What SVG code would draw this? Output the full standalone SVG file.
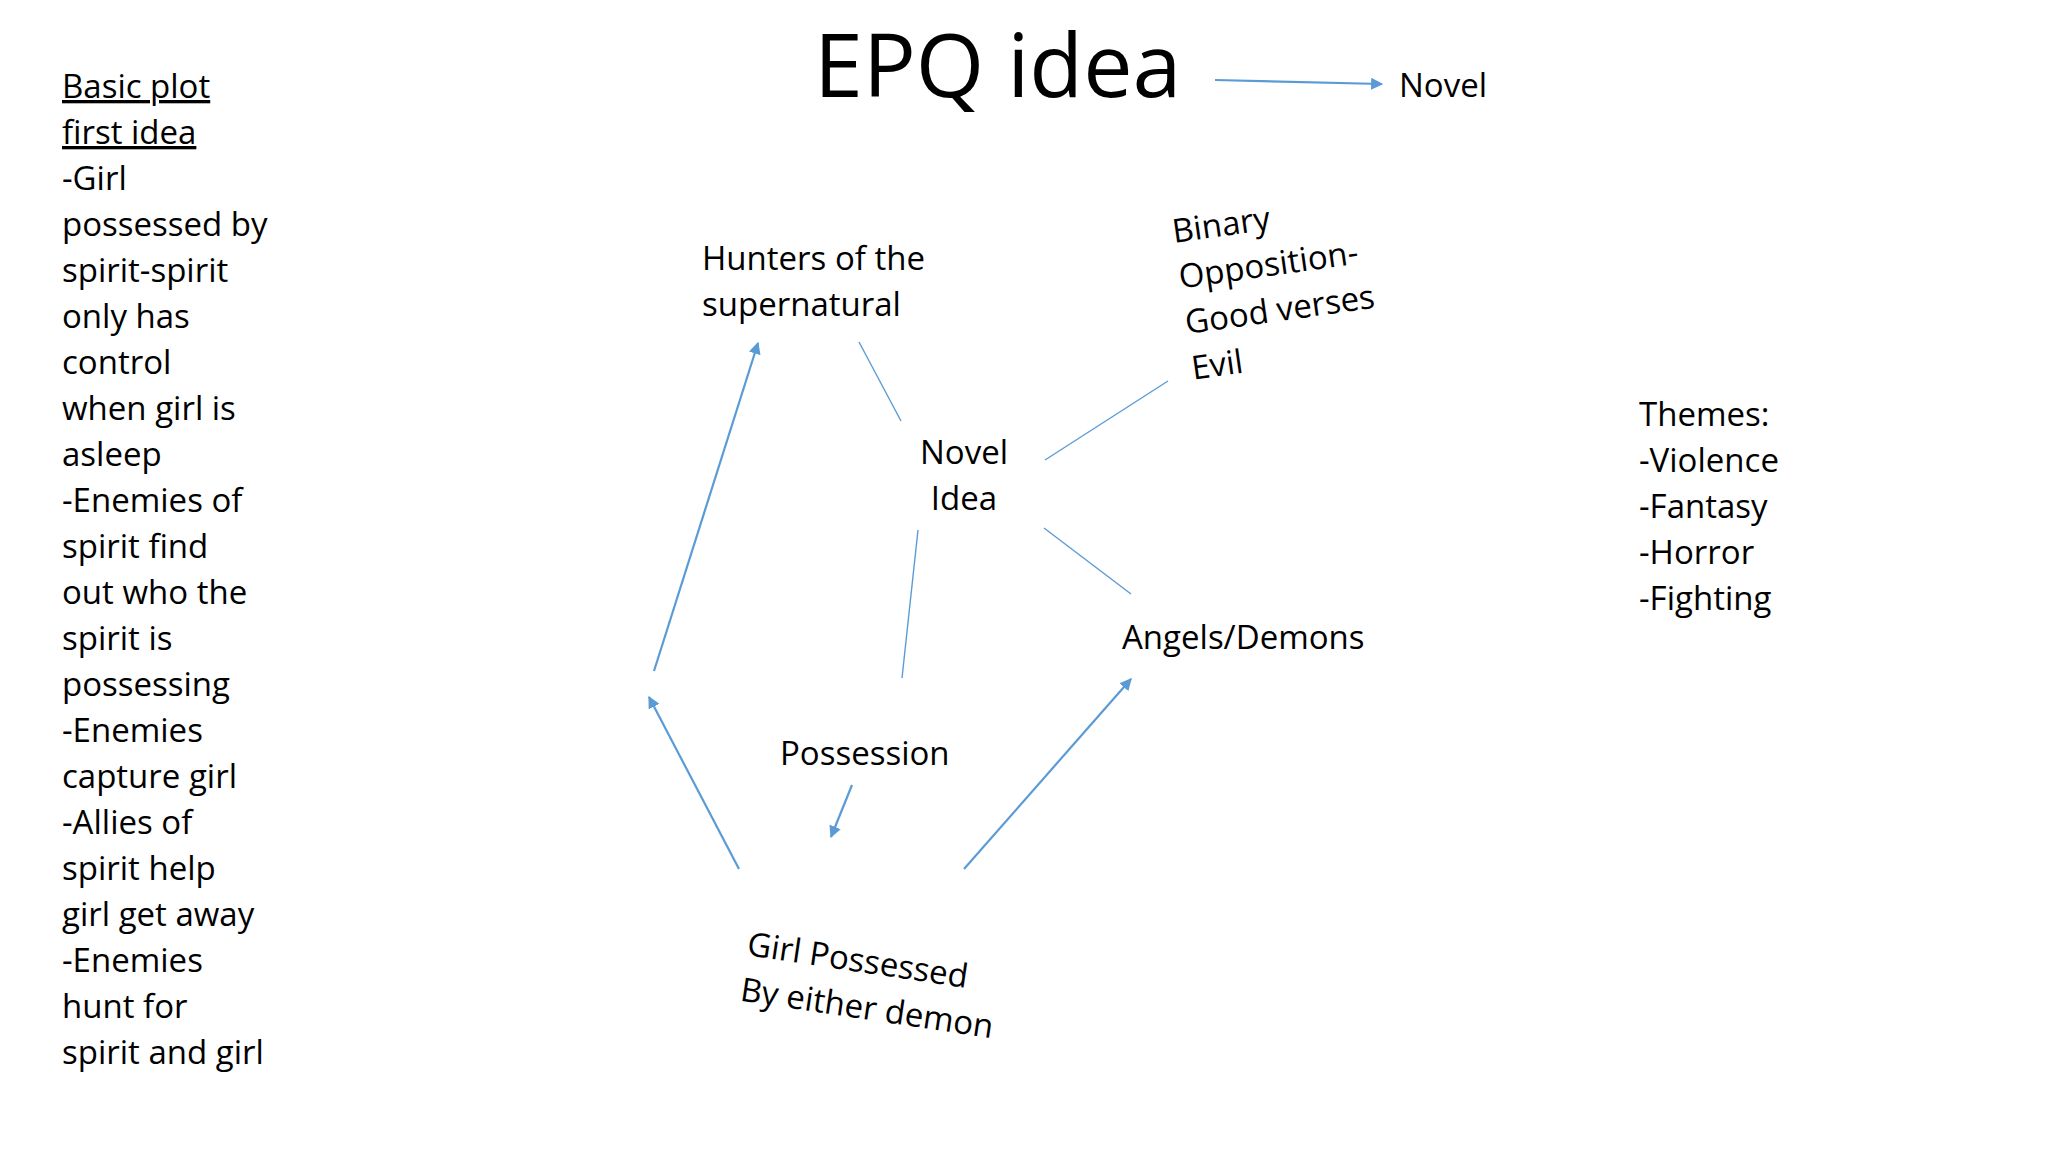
<svg xmlns="http://www.w3.org/2000/svg" width="2048" height="1152" viewBox="0 0 2048 1152">
  <defs>
    <style>
      text { font-family: "Open Sans", "Liberation Sans", sans-serif; font-size: 33px; fill: #000; }
      .title { font-size: 88px; font-weight: 400; }
      .u { text-decoration: underline; }
      .thin { stroke: #5B9BD5; stroke-width: 1.4; fill: none; }
      .arr { stroke: #5B9BD5; stroke-width: 2.2; fill: none; marker-end: url(#ah); }
    </style>
    <marker id="ah" viewBox="0 0 10 10" refX="9" refY="5" markerWidth="5.5" markerHeight="5.5" orient="auto" markerUnits="strokeWidth">
      <path d="M0,0 L10,5 L0,10 z" fill="#5B9BD5"/>
    </marker>
  </defs>
  <rect width="2048" height="1152" fill="#fff"/>

  <g id="title">
    <text class="title" x="814" y="97">EPQ idea</text>
  </g>
  <g id="novel">
    <text x="1399" y="97">Novel</text>
  </g>

  <g id="basic-plot">
    <text x="62" y="98" class="u">Basic plot</text>
    <text x="62" y="144" class="u">first idea</text>
    <text x="62" y="190">-Girl</text>
    <text x="62" y="236">possessed by</text>
    <text x="62" y="282">spirit-spirit</text>
    <text x="62" y="328">only has</text>
    <text x="62" y="374">control</text>
    <text x="62" y="420">when girl is</text>
    <text x="62" y="466">asleep</text>
    <text x="62" y="512">-Enemies of</text>
    <text x="62" y="558">spirit find</text>
    <text x="62" y="604">out who the</text>
    <text x="62" y="650">spirit is</text>
    <text x="62" y="696">possessing</text>
    <text x="62" y="742">-Enemies</text>
    <text x="62" y="788">capture girl</text>
    <text x="62" y="834">-Allies of</text>
    <text x="62" y="880">spirit help</text>
    <text x="62" y="926">girl get away</text>
    <text x="62" y="972">-Enemies</text>
    <text x="62" y="1018">hunt for</text>
    <text x="62" y="1064">spirit and girl</text>
  </g>

  <g id="hunters">
    <text x="702" y="270">Hunters of the</text>
    <text x="702" y="316">supernatural</text>
  </g>

  <g id="novel-idea">
    <text x="964" y="464" text-anchor="middle">Novel</text>
    <text x="964" y="510" text-anchor="middle">Idea</text>
  </g>

  <g id="binary" transform="translate(1174,243) rotate(-8)">
    <text x="0" y="0">Binary</text>
    <text x="0" y="46">Opposition-</text>
    <text x="0" y="92">Good verses</text>
    <text x="0" y="138">Evil</text>
  </g>

  <g id="angels">
    <text x="1122" y="649">Angels/Demons</text>
  </g>

  <g id="possession">
    <text x="780" y="765">Possession</text>
  </g>

  <g id="girl" transform="translate(746,955) rotate(8.5)">
    <text x="0" y="0">Girl Possessed</text>
    <text x="0" y="46">By either demon</text>
  </g>

  <g id="themes">
    <text x="1639" y="426">Themes:</text>
    <text x="1639" y="472">-Violence</text>
    <text x="1639" y="518">-Fantasy</text>
    <text x="1639" y="564">-Horror</text>
    <text x="1639" y="610">-Fighting</text>
  </g>

  <g id="connectors">
    <line class="arr" x1="1215" y1="80" x2="1382" y2="84"/>
    <line class="thin" x1="859" y1="342" x2="901" y2="421"/>
    <line class="thin" x1="1168" y1="381" x2="1045" y2="460"/>
    <line class="thin" x1="918" y1="530" x2="902" y2="678"/>
    <line class="thin" x1="1044" y1="528" x2="1131" y2="594"/>
    <line class="arr" x1="654" y1="671" x2="758" y2="343"/>
    <line class="arr" x1="739" y1="869" x2="649" y2="697"/>
    <line class="arr" x1="852" y1="785" x2="831" y2="837"/>
    <line class="arr" x1="964" y1="869" x2="1131" y2="679"/>
  </g>
</svg>
